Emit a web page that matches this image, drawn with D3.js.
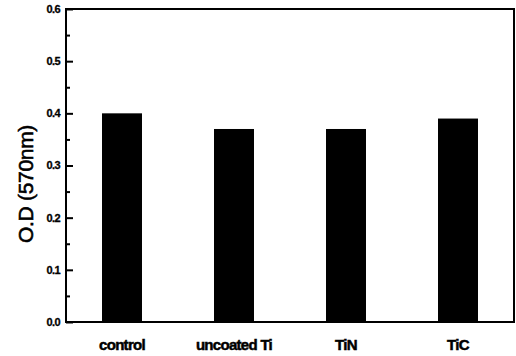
<!DOCTYPE html>
<html lang="en">
<head>
    <meta charset="UTF-8">
    <title>O.D (570nm)</title>
    <script src="https://d3js.org/d3.v7.min.js"></script>
    <style>
        body { margin: 0; background: #fff; }
        svg { display: block; }
        text { font-family: "Liberation Sans", Arial, sans-serif; fill: #000; }
    </style>
</head>
<body>
    <svg width="516" height="356"></svg>

    <script>
        // data
        const categories = ["control", "uncoated Ti", "TiN", "TiC"];
        const odValues = [0.40, 0.37, 0.37, 0.39];
        const yTicks = [0.0, 0.1, 0.2, 0.3, 0.4, 0.5, 0.6];
        const yMinorTicks = [0.05, 0.15, 0.25, 0.35, 0.45, 0.55];

        const svg = d3.select("svg");
        const plotLeft = 66, plotRight = 514, plotTop = 9, plotBottom = 322;

        const x = d3.scaleBand()
            .domain(categories)
            .range([plotLeft, plotRight])
            .paddingInner(0.643)
            .paddingOuter(0.3215);

        const y = d3.scaleLinear()
            .domain([0, 0.6])
            .range([plotBottom, plotTop]);

        // bars
        svg.append("g")
            .selectAll("rect")
            .data(categories)
            .enter().append("rect")
            .attr("x", d => x(d))
            .attr("y", (d, i) => y(odValues[i]))
            .attr("width", x.bandwidth())
            .attr("height", (d, i) => plotBottom - y(odValues[i]))
            .attr("fill", "#000");

        // frame
        svg.append("rect")
            .attr("x", plotLeft)
            .attr("y", plotTop)
            .attr("width", plotRight - plotLeft)
            .attr("height", plotBottom - plotTop)
            .attr("fill", "none")
            .attr("stroke", "#000")
            .attr("stroke-width", 2);

        // y axis, ticks pointing inward
        const yAxis = svg.append("g")
            .attr("transform", `translate(${plotLeft},0)`)
            .call(d3.axisRight(y).tickValues(yTicks).tickSize(7).tickFormat(""));
        yAxis.select(".domain").remove();
        yAxis.selectAll("line").attr("stroke-width", 2);

        const yMinor = svg.append("g")
            .attr("transform", `translate(${plotLeft},0)`)
            .call(d3.axisRight(y).tickValues(yMinorTicks).tickSize(4).tickFormat(""));
        yMinor.select(".domain").remove();
        yMinor.selectAll("line").attr("stroke-width", 2);

        // y tick labels
        svg.append("g")
            .selectAll("text")
            .data(yTicks)
            .enter().append("text")
            .attr("x", plotLeft - 6)
            .attr("y", d => y(d))
            .attr("dy", "0.35em")
            .attr("text-anchor", "end")
            .attr("font-size", 11)
            .attr("font-weight", "bold")
            .attr("letter-spacing", -0.6)
            .attr("stroke", "#000")
            .attr("stroke-width", 0.3)
            .text(d => d.toFixed(1));

        // x labels
        svg.append("g")
            .selectAll("text")
            .data(categories)
            .enter().append("text")
            .attr("x", d => x(d) + x.bandwidth() / 2)
            .attr("y", 350)
            .attr("text-anchor", "middle")
            .attr("font-size", 15)
            .attr("font-weight", "bold")
            .attr("letter-spacing", -0.7)
            .attr("stroke", "#000")
            .attr("stroke-width", 0.5)
            .text(d => d);

        // y title
        svg.append("text")
            .attr("transform", "translate(33,184) rotate(-90)")
            .attr("text-anchor", "middle")
            .attr("font-size", 21)
            .attr("letter-spacing", -0.3)
            .attr("stroke", "#000")
            .attr("stroke-width", 0.6)
            .text("O.D (570nm)");
    </script>
</body>
</html>
